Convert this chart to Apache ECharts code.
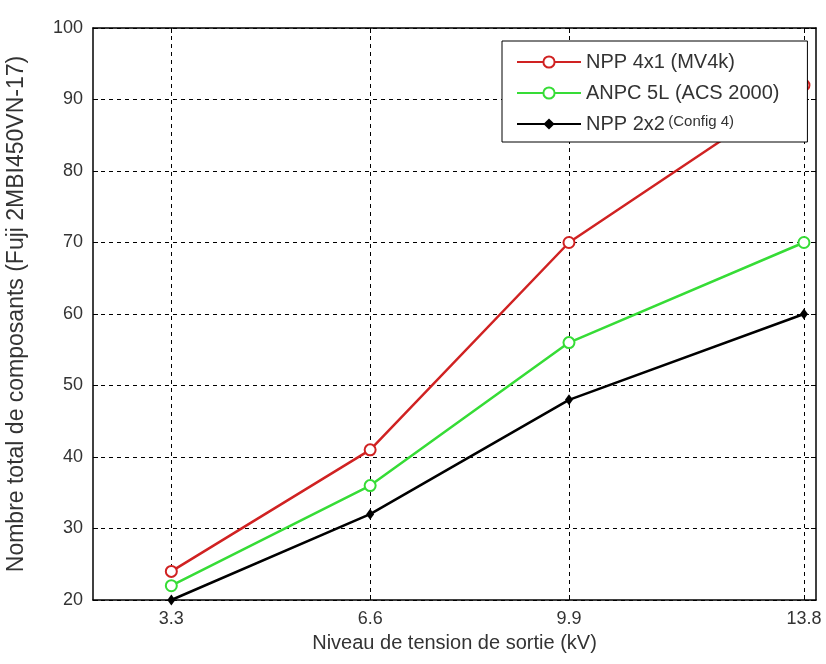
<!DOCTYPE html>
<html>
<head>
<meta charset="utf-8">
<script src="https://cdn.jsdelivr.net/npm/echarts@6/dist/echarts.min.js"></script>
<style>html,body{margin:0;padding:0;background:#fff;}#c{width:826px;height:664px;}</style>
</head>
<body>
<div id="c"></div>
<script>
const xValues = [3.3, 6.6, 9.9, 13.8];
const seriesNames = ['NPP 4x1 (MV4k)', 'ANPC 5L (ACS 2000)', 'NPP 2x2 (Config 4)'];
const npp4x1 = [24, 41, 70, 92];
const anpc5l = [22, 36, 56, 70];
const npp2x2 = [20, 32, 48, 60];
const xTickLabels = ['3.3', '6.6', '9.9', '13.8'];
const xAxisTitle = 'Niveau de tension de sortie (kV)';
const yAxisTitle = 'Nombre total de composants (Fuji 2MBI450VN-17)';

const pairs = arr => xValues.map((x, i) => [x, arr[i]]);
const font = 'Liberation Sans, Arial, sans-serif';
const gridLine = { show: true, lineStyle: { color: '#000', type: [4, 4], width: 1 } };

const chart = echarts.init(document.getElementById('c'), null, { renderer: 'canvas' });
chart.setOption({
  animation: false,
  backgroundColor: '#fff',
  textStyle: { fontFamily: font },
  grid: { left: 93, right: 10, top: 28, bottom: 64, containLabel: false, outerBoundsMode: 'none' },
  legend: {
    orient: 'vertical',
    left: 502, top: 41,
    backgroundColor: '#fff',
    borderColor: '#000', borderWidth: 1,
    padding: [11, 28, 8, 14],
    itemGap: 11,
    itemWidth: 64, itemHeight: 14,
    itemTextGap: 8,
    data: seriesNames,
    formatter: function (name) {
      if (name === seriesNames[2]) return '{a|NPP 2x2} {b|(Config 4)}';
      return '{a|' + name + '}';
    },
    textStyle: {
      rich: {
        a: { fontSize: 20, color: '#333', fontFamily: font, lineHeight: 20 },
        b: { fontSize: 15, color: '#333', fontFamily: font, verticalAlign: 'top', lineHeight: 20, padding: [0, 0, 3, 0] }
      }
    }
  },
  xAxis: [{
    type: 'value', min: 2, max: 14, position: 'bottom',
    name: xAxisTitle, nameLocation: 'middle', nameGap: 33,
    nameTextStyle: { fontSize: 20, color: '#333', fontFamily: font },
    axisLine: { show: true, lineStyle: { color: '#000', width: 1.5 } },
    axisTick: { show: true, inside: true, length: 5, customValues: xValues, lineStyle: { color: '#000' } },
    axisLabel: { show: true, customValues: xValues, fontSize: 18, color: '#333', margin: 10,
      formatter: v => xTickLabels[xValues.indexOf(v)] ?? String(v) },
    splitLine: gridLine
  }, {
    type: 'value', min: 2, max: 14, position: 'top',
    axisLine: { show: true, onZero: false, lineStyle: { color: '#000', width: 1.5 } },
    axisTick: { show: true, inside: true, length: 5, customValues: xValues, lineStyle: { color: '#000' } },
    axisLabel: { show: false },
    splitLine: { show: false }
  }],
  yAxis: [{
    type: 'value', min: 20, max: 100, interval: 10, position: 'left',
    name: yAxisTitle, nameLocation: 'middle', nameGap: 65,
    nameTextStyle: { fontSize: 23, color: '#333', fontFamily: font },
    axisLine: { show: true, lineStyle: { color: '#000', width: 1.5 } },
    axisTick: { show: true, inside: true, length: 5, lineStyle: { color: '#000' } },
    axisLabel: { fontSize: 18, color: '#333', margin: 10 },
    splitLine: gridLine
  }, {
    type: 'value', min: 20, max: 100, interval: 10, position: 'right',
    axisLine: { show: true, onZero: false, lineStyle: { color: '#000', width: 1.5 } },
    axisTick: { show: true, inside: true, length: 5, lineStyle: { color: '#000' } },
    axisLabel: { show: false },
    splitLine: { show: false }
  }],
  series: [{
    name: seriesNames[0], type: 'line', data: pairs(npp4x1),
    color: '#d02222',
    lineStyle: { width: 2.5, color: '#d02222' },
    symbol: 'circle', symbolSize: 11,
    itemStyle: { color: '#fff', borderColor: '#d02222', borderWidth: 2 }
  }, {
    name: seriesNames[1], type: 'line', data: pairs(anpc5l),
    color: '#36dc36',
    lineStyle: { width: 2.5, color: '#36dc36' },
    symbol: 'circle', symbolSize: 11,
    itemStyle: { color: '#fff', borderColor: '#36dc36', borderWidth: 2 }
  }, {
    name: seriesNames[2], type: 'line', data: pairs(npp2x2),
    color: '#000',
    lineStyle: { width: 2.5, color: '#000' },
    symbol: 'diamond', symbolSize: [8, 11],
    itemStyle: { color: '#000' }
  }]
});
</script>
</body>
</html>
